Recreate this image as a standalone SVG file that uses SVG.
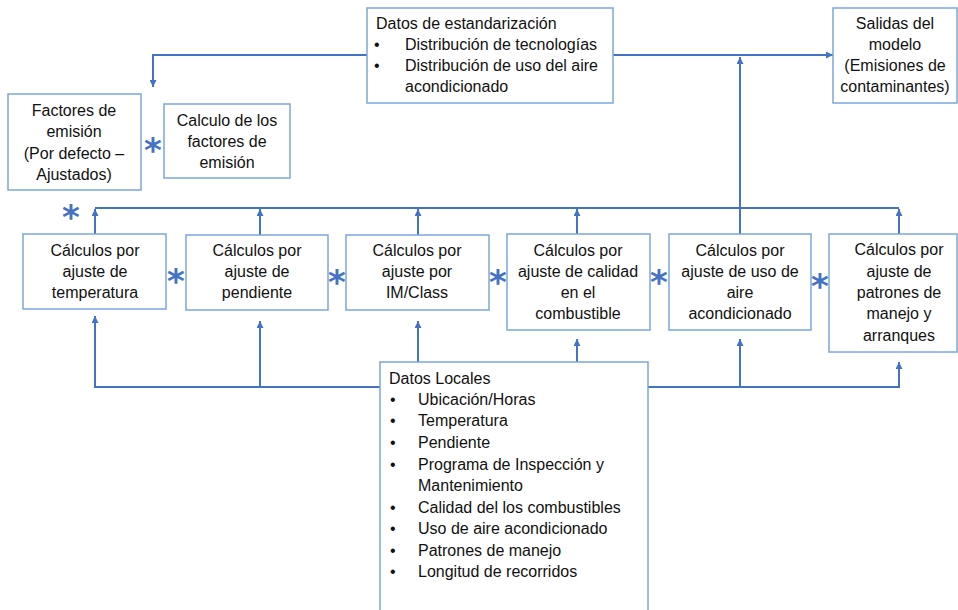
<svg xmlns="http://www.w3.org/2000/svg" width="958" height="610" viewBox="0 0 958 610">
<style>
.box{fill:#fff;stroke:#7ba7de;stroke-width:1.5}
.t{font-family:"Liberation Sans",Arial,sans-serif;font-size:16px;fill:#111}
.c{text-anchor:middle}
.ln{fill:none;stroke:#4472c4;stroke-width:2}
.ast{font-family:"DejaVu Sans",sans-serif;font-size:34px;font-weight:bold;fill:#4472c4;text-anchor:middle}
</style>
<defs>
<marker id="ah" viewBox="0 0 10 10" refX="10" refY="5" markerWidth="8" markerHeight="7" markerUnits="userSpaceOnUse" orient="auto">
<path d="M0,0 L10,5 L0,10 z" fill="#4472c4"/>
</marker>
</defs>
<rect width="958" height="610" fill="#fff"/>
<g id="connectors">
<path class="ln" d="M367,55 H153 V87" marker-end="url(#ah)"/>
<path class="ln" d="M613,55 H833" marker-end="url(#ah)"/>
<path class="ln" d="M740,234 V57" marker-end="url(#ah)"/>
<path class="ln" d="M95,208 H899"/>
<path class="ln" d="M95,234 V209" marker-end="url(#ah)"/>
<path class="ln" d="M260,235 V209" marker-end="url(#ah)"/>
<path class="ln" d="M418,235 V209" marker-end="url(#ah)"/>
<path class="ln" d="M577,234 V209" marker-end="url(#ah)"/>
<path class="ln" d="M899,234 V209" marker-end="url(#ah)"/>
<path class="ln" d="M380,387 H95 V316" marker-end="url(#ah)"/>
<path class="ln" d="M260,387 V321" marker-end="url(#ah)"/>
<path class="ln" d="M418,362 V321" marker-end="url(#ah)"/>
<path class="ln" d="M577,362 V339" marker-end="url(#ah)"/>
<path class="ln" d="M648,387 H899 V362" marker-end="url(#ah)"/>
<path class="ln" d="M740,387 V339" marker-end="url(#ah)"/>
</g>
<g id="datos-estandarizacion">
<rect class="box" x="367" y="8" width="246" height="95"/>
<text class="t" x="376" y="29">Datos de estandarización</text>
<text class="t" x="374" y="50">•</text><text class="t" x="405" y="50">Distribución de tecnologías</text>
<text class="t" x="374" y="71">•</text><text class="t" x="405" y="71">Distribución de uso del aire</text>
<text class="t" x="405" y="92">acondicionado</text>
</g>
<g id="salidas">
<rect class="box" x="833" y="8" width="124" height="95"/>
<text class="t c" x="895" y="29">Salidas del</text>
<text class="t c" x="895" y="50">modelo</text>
<text class="t c" x="895" y="71">(Emisiones de</text>
<text class="t c" x="895" y="92">contaminantes)</text>
</g>
<g id="factores">
<rect class="box" x="8" y="94" width="133" height="96"/>
<text class="t c" x="74" y="116">Factores de</text>
<text class="t c" x="74" y="137">emisión</text>
<text class="t c" x="74" y="159">(Por defecto –</text>
<text class="t c" x="74" y="180">Ajustados)</text>
</g>
<g id="calculo-factores">
<rect class="box" x="164" y="104" width="126" height="74"/>
<text class="t c" x="227" y="126">Calculo de los</text>
<text class="t c" x="227" y="147">factores de</text>
<text class="t c" x="227" y="168">emisión</text>
</g>
<g id="temp">
<rect class="box" x="23" y="234" width="143" height="75"/>
<text class="t c" x="95" y="256">Cálculos por</text>
<text class="t c" x="95" y="277">ajuste de</text>
<text class="t c" x="95" y="298">temperatura</text>
</g>
<g id="pend">
<rect class="box" x="186" y="235" width="142" height="75"/>
<text class="t c" x="257" y="256">Cálculos por</text>
<text class="t c" x="257" y="277">ajuste de</text>
<text class="t c" x="257" y="298">pendiente</text>
</g>
<g id="im">
<rect class="box" x="346" y="235" width="143" height="75"/>
<text class="t c" x="417" y="256">Cálculos por</text>
<text class="t c" x="417" y="277">ajuste por</text>
<text class="t c" x="417" y="298">IM/Class</text>
</g>
<g id="calidad">
<rect class="box" x="507" y="234" width="143" height="96"/>
<text class="t c" x="578" y="256">Cálculos por</text>
<text class="t c" x="578" y="277">ajuste de calidad</text>
<text class="t c" x="578" y="298">en el</text>
<text class="t c" x="578" y="319">combustible</text>
</g>
<g id="aire">
<rect class="box" x="669" y="234" width="142" height="96"/>
<text class="t c" x="740" y="256">Cálculos por</text>
<text class="t c" x="740" y="277">ajuste de uso de</text>
<text class="t c" x="740" y="298">aire</text>
<text class="t c" x="740" y="319">acondicionado</text>
</g>
<g id="patrones">
<rect class="box" x="829" y="234" width="128" height="118"/>
<text class="t c" x="899" y="255">Cálculos por</text>
<text class="t c" x="899" y="277">ajuste de</text>
<text class="t c" x="899" y="298">patrones de</text>
<text class="t c" x="899" y="319">manejo y</text>
<text class="t c" x="899" y="341">arranques</text>
</g>
<g id="datos-locales">
<rect class="box" x="380" y="362" width="268" height="260"/>
<text class="t" x="389" y="384">Datos Locales</text>
<text class="t" x="390" y="405">•</text><text class="t" x="418" y="405">Ubicación/Horas</text>
<text class="t" x="390" y="426">•</text><text class="t" x="418" y="426">Temperatura</text>
<text class="t" x="390" y="448">•</text><text class="t" x="418" y="448">Pendiente</text>
<text class="t" x="390" y="470">•</text><text class="t" x="418" y="470">Programa de Inspección y</text>
<text class="t" x="418" y="491">Mantenimiento</text>
<text class="t" x="390" y="513">•</text><text class="t" x="418" y="513">Calidad del los combustibles</text>
<text class="t" x="390" y="534">•</text><text class="t" x="418" y="534">Uso de aire acondicionado</text>
<text class="t" x="390" y="556">•</text><text class="t" x="418" y="556">Patrones de manejo</text>
<text class="t" x="390" y="577">•</text><text class="t" x="418" y="577">Longitud de recorridos</text>
</g>
<g id="asterisks">
<text class="ast" x="153" y="162">*</text>
<text class="ast" x="71" y="229">*</text>
<text class="ast" x="176" y="293">*</text>
<text class="ast" x="337" y="294">*</text>
<text class="ast" x="498" y="294">*</text>
<text class="ast" x="659" y="294">*</text>
<text class="ast" x="820" y="298">*</text>
</g>
</svg>
